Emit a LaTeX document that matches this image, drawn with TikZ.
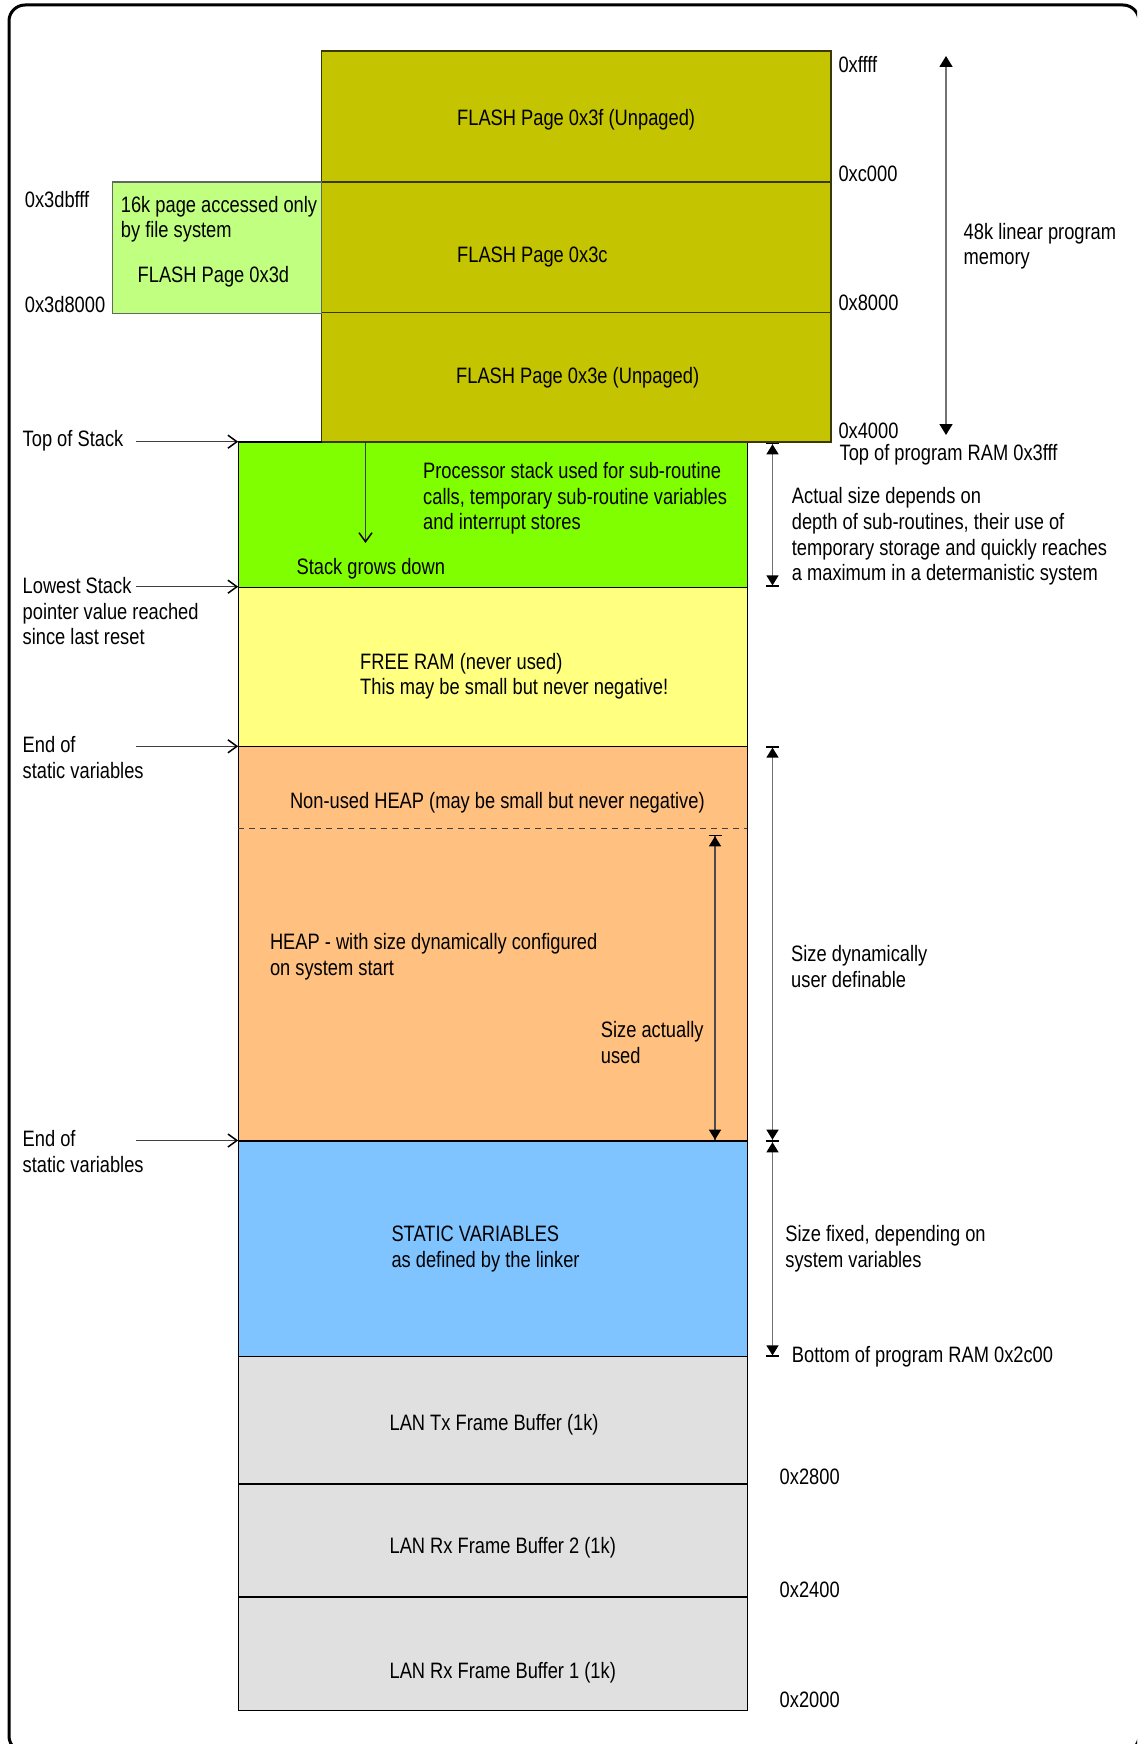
\documentclass[tikz,border=0pt]{standalone}
\usepackage{fontspec}
\setmainfont{Liberation Sans}[FakeStretch=0.82]
\usetikzlibrary{arrows.meta}
\newcommand\lblfont{\fontsize{22.3pt}{25.7pt}\selectfont}
\definecolor{flashc}{HTML}{C4C400}
\definecolor{flashb}{HTML}{3A3A00}
\definecolor{pagec}{HTML}{C0FF80}
\definecolor{stackc}{HTML}{80FF00}
\definecolor{freec}{HTML}{FFFF80}
\definecolor{heapc}{HTML}{FFC080}
\definecolor{statc}{HTML}{80C4FF}
\definecolor{lanc}{HTML}{E0E0E0}
\begin{document}
\begin{tikzpicture}[x=1pt,y=-1pt,
  lbl/.style={font=\lblfont, inner sep=0pt, align=left, anchor=base west},
  membox/.style={draw=black, line width=1.4pt},
  ptr/.style={draw=black!75, line width=1.2pt, -{Straight Barb[length=9pt,width=13pt,line width=1.5pt,color=black]}},
  dimarrow/.style={draw=black!55, line width=1.3pt,
     {Bar[width=13pt,line width=1.3pt,sep=0pt,color=black]Triangle[length=10pt,width=12pt,sep=0pt,color=black]}-{Triangle[length=10pt,width=12pt,sep=0pt,color=black]Bar[width=13pt,line width=1.3pt,sep=0pt,color=black]}},
  bigarrow/.style={draw=black!55, line width=1.6pt,
     {Triangle[length=11pt,width=13pt,color=black]}-{Triangle[length=11pt,width=13pt,color=black]}}
]
\useasboundingbox (0,0) rectangle (1137,1744);
\clip (0,0) rectangle (1137,1744);
% outer frame
\draw[line width=3pt, rounded corners=16pt] (9,5) rectangle (1139,1752);

% flash pages
\path[membox, draw=flashb, fill=flashc] (321.5,51) rectangle (831,182);
\path[membox, draw=flashb, fill=flashc] (321.5,182) rectangle (831,312.3);
\path[membox, draw=flashb, fill=flashc] (321.5,312.3) rectangle (831,442);
\path[draw=black!60, line width=1.4pt, fill=pagec] (112.4,182) rectangle (321.5,313.3);

% RAM blocks
\path[membox, fill=stackc] (238.2,442) rectangle (747.2,587.3);
\path[membox, fill=freec] (238.2,587.3) rectangle (747.2,746.3);
\path[membox, fill=heapc] (238.2,746.3) rectangle (747.2,1141);
\path[membox, fill=statc] (238.2,1141) rectangle (747.2,1356.7);
\path[membox, fill=lanc] (238.2,1356.7) rectangle (747.2,1484);
\path[membox, fill=lanc] (238.2,1484) rectangle (747.2,1597);
\path[membox, fill=lanc] (238.2,1597) rectangle (747.2,1710.6);
\draw[membox, draw=flashb] (321.5,442) -- (831,442);
\draw[black!75, line width=1.1pt, dash pattern=on 6pt off 5pt] (238.2,828.7) -- (747.2,828.7);

% flash labels
\node[lbl] (f3f) at (457,125.5) {FLASH Page 0x3f (Unpaged)};
\node[lbl] (f3c) at (457,262) {FLASH Page 0x3c};
\node[lbl] (f3e) at (456,383.5) {FLASH Page 0x3e (Unpaged)};
\node[lbl] (p16k) at (120.7,238) {16k page accessed only\\by file system};
\node[lbl] (f3d) at (137.5,282) {FLASH Page 0x3d};
\node[lbl] (a3dbfff) at (24.7,208) {0x3dbfff};
\node[lbl] (a3d8000) at (24.7,312) {0x3d8000};
\node[lbl] (affff) at (838.3,73) {0xffff};
\node[lbl] (ac000) at (838.3,182) {0xc000};
\node[lbl] (a8000) at (838.3,310) {0x8000};
\node[lbl] (a4000) at (838.3,438) {0x4000};
\node[lbl] (topram) at (839.4,460.7) {Top of program RAM 0x3fff};
\node[lbl] (lin48) at (963.5,265) {48k linear program\\memory};

% RAM labels
\node[lbl] (procstk) at (423,529.7) {Processor stack used for sub-routine\\calls, temporary sub-routine variables\\and interrupt stores};
\node[lbl] (grows) at (296.4,574) {Stack grows down};
\node[lbl] (actual) at (791.7,580.7) {Actual size depends on\\depth of sub-routines, their use of\\temporary storage and quickly reaches\\a maximum in a determanistic system};
\node[lbl] (freeram) at (360,694.7) {FREE RAM (never used)\\This may be small but never negative!};
\node[lbl] (nonheap) at (289.8,808.7) {Non-used HEAP (may be small but never negative)};
\node[lbl] (heap) at (269.8,975.3) {HEAP - with size dynamically configured\\on system start};
\node[lbl] (sizeused) at (600.7,1063) {Size actually\\used};
\node[lbl] (sizedyn) at (791,987) {Size dynamically\\user definable};
\node[lbl] (statv) at (391.3,1267.3) {STATIC VARIABLES\\as defined by the linker};
\node[lbl] (sizefix) at (785.2,1267.3) {Size fixed, depending on\\system variables};
\node[lbl] (botram) at (791.7,1362.3) {Bottom of program RAM 0x2c00};
\node[lbl] (lantx) at (389.4,1430.5) {LAN Tx Frame Buffer (1k)};
\node[lbl] (lanrx2) at (389.4,1553) {LAN Rx Frame Buffer 2 (1k)};
\node[lbl] (lanrx1) at (389.4,1678) {LAN Rx Frame Buffer 1 (1k)};
\node[lbl] (a2800) at (779.5,1484) {0x2800};
\node[lbl] (a2400) at (779.5,1597) {0x2400};
\node[lbl] (a2000) at (779.5,1707) {0x2000};

% left labels
\node[lbl] (tos) at (22.5,446.3) {Top of Stack};
\node[lbl] (lowest) at (22.5,644.7) {Lowest Stack\\pointer value reached\\since last reset};
\node[lbl] (endst1) at (22.5,778) {End of\\static variables};
\node[lbl] (endst2) at (22.5,1172) {End of\\static variables};

% pointer arrows
\coordinate (tosA) at (136,441.7);   \coordinate (tosB) at (238.2,441.7);
\coordinate (lowA) at (136,586.7);   \coordinate (lowB) at (238.2,586.7);
\coordinate (e1A) at (136,746.3);    \coordinate (e1B) at (238.2,746.3);
\coordinate (e2A) at (136,1140.5);   \coordinate (e2B) at (238.2,1140.5);
\coordinate (sgA) at (365.5,443);    \coordinate (sgB) at (365.5,543);
\draw[ptr] (tosA) -- (tosB);
\draw[ptr] (lowA) -- (lowB);
\draw[ptr] (e1A) -- (e1B);
\draw[ptr] (e2A) -- (e2B);
\draw[ptr] (sgA) -- (sgB);

% dimension arrows
\coordinate (m48A) at (946,56);     \coordinate (m48B) at (946,435);
\coordinate (stkA) at (772.5,443);  \coordinate (stkB) at (772.5,586.7);
\coordinate (hpA) at (772.5,746.3); \coordinate (hpB) at (772.5,1141);
\coordinate (svA) at (772.5,1141);  \coordinate (svB) at (772.5,1356.7);
\coordinate (usA) at (715,835);     \coordinate (usB) at (715,1141);
\draw[bigarrow] (m48A) -- (m48B);
\draw[dimarrow] (stkA) -- (stkB);
\draw[dimarrow] (hpA) -- (hpB);
\draw[dimarrow] (svA) -- (svB);
\draw[dimarrow, draw=black!70] (usA) -- (usB);
\end{tikzpicture}
\end{document}
